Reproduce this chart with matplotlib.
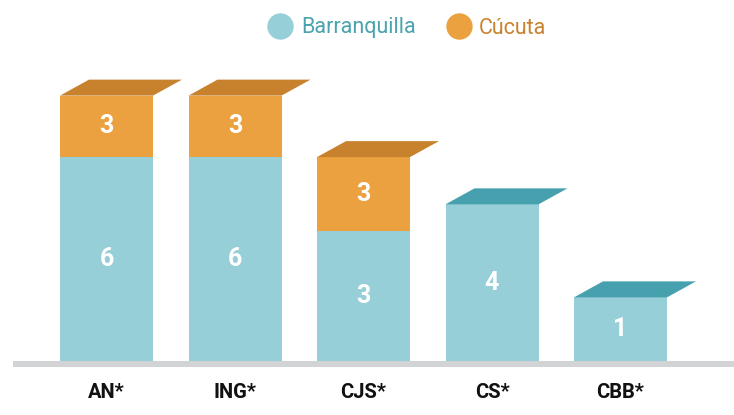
import numpy as np
import matplotlib
matplotlib.use("Agg")
import matplotlib.pyplot as plt
from matplotlib.patches import Polygon
from matplotlib.lines import Line2D
from matplotlib.transforms import blended_transform_factory

categories = ["AN*", "ING*", "CJS*", "CS*", "CBB*"]
barranquilla = [6, 6, 3, 4, 1]
cucuta = [3, 3, 3, 0, 0]
series_names = ["Barranquilla", "Cúcuta"]

BLUE, BLUE_TOP, BLUE_TXT = "#97CFD8", "#46A0AD", "#4AA3AD"
ORANGE, ORANGE_TOP, ORANGE_TXT = "#EBA140", "#C8822D", "#C9822E"
FONT = ["Roboto", "DejaVu Sans"]

W, H = 734, 415
PY = 0.65  # power scale for bar heights
fwd = lambda v: np.power(np.clip(v, 0, None), PY)
inv = lambda v: np.power(np.clip(v, 0, None), 1 / PY)

fig = plt.figure(figsize=(W / 100, H / 100), dpi=100)
ax = fig.add_axes([0, 54 / H, 1, 361 / H])
ax.set_yscale("function", functions=(fwd, inv))
ax.set_xlim(-106.5 / 128.5, (W - 106.5) / 128.5)
ax.set_ylim(0, 14.45)
ax.axis("off")

x = np.arange(len(categories))
bw = 93 / 128.5
ax.bar(x, barranquilla, width=bw, color=BLUE, linewidth=0)
ax.bar(x, cucuta, width=bw, bottom=barranquilla, color=ORANGE, linewidth=0)

fig.canvas.draw()
to_disp = ax.transData.transform
to_data = ax.transData.inverted().transform

# slanted lid on each bar
for xi, b, c in zip(x, barranquilla, cucuta):
    top = b + c
    lid = ORANGE_TOP if c > 0 else BLUE_TOP
    p0 = to_disp((xi - bw / 2, top))
    p1 = to_disp((xi + bw / 2, top))
    pts = [p0, p1, p1 + (29, 16), p0 + (29, 16)]
    ax.add_patch(Polygon(to_data(pts), closed=True, color=lid, lw=0, clip_on=False))

# value labels, centred on each segment
def seg_label(xi, lo, hi, val):
    px = to_disp((xi, lo))[0]
    y0 = to_disp((xi, lo))[1]
    y1 = to_disp((xi, hi))[1]
    yc = to_data((px, (y0 + y1) / 2))[1]
    ax.text(xi, yc, str(val), ha="center", va="center", color="white",
            fontsize=18, fontweight="bold", family=FONT)

for xi, b, c in zip(x, barranquilla, cucuta):
    seg_label(xi, 0, b, b)
    if c > 0:
        seg_label(xi, b, b + c, c)

# grey floor line
ax.add_line(Line2D([13 / W, 1], [-3 / 361, -3 / 361], transform=ax.transAxes,
                   color="#D2D3D5", lw=4.3, clip_on=False, solid_capstyle="butt"))

tr = blended_transform_factory(ax.transData, ax.transAxes)
for xi, cat in zip(x, categories):
    ax.text(xi, -31 / 361, cat, transform=tr, ha="center", va="center",
            fontsize=14.5, fontweight="bold", family=FONT, color="#111111")

handles = [Line2D([], [], marker="o", ls="none", ms=19, mfc=BLUE, mec="none"),
           Line2D([], [], marker="o", ls="none", ms=19, mfc=ORANGE, mec="none")]
fig.legend(handles, series_names, loc="center", bbox_to_anchor=(406 / W, 1 - 28 / H),
           ncol=2, frameon=False, handletextpad=0.25, columnspacing=1.3,
           handlelength=1.4, prop={"family": FONT, "size": 15.5},
           labelcolor=[BLUE_TXT, ORANGE_TXT])

fig.savefig("out.png", dpi=100)
